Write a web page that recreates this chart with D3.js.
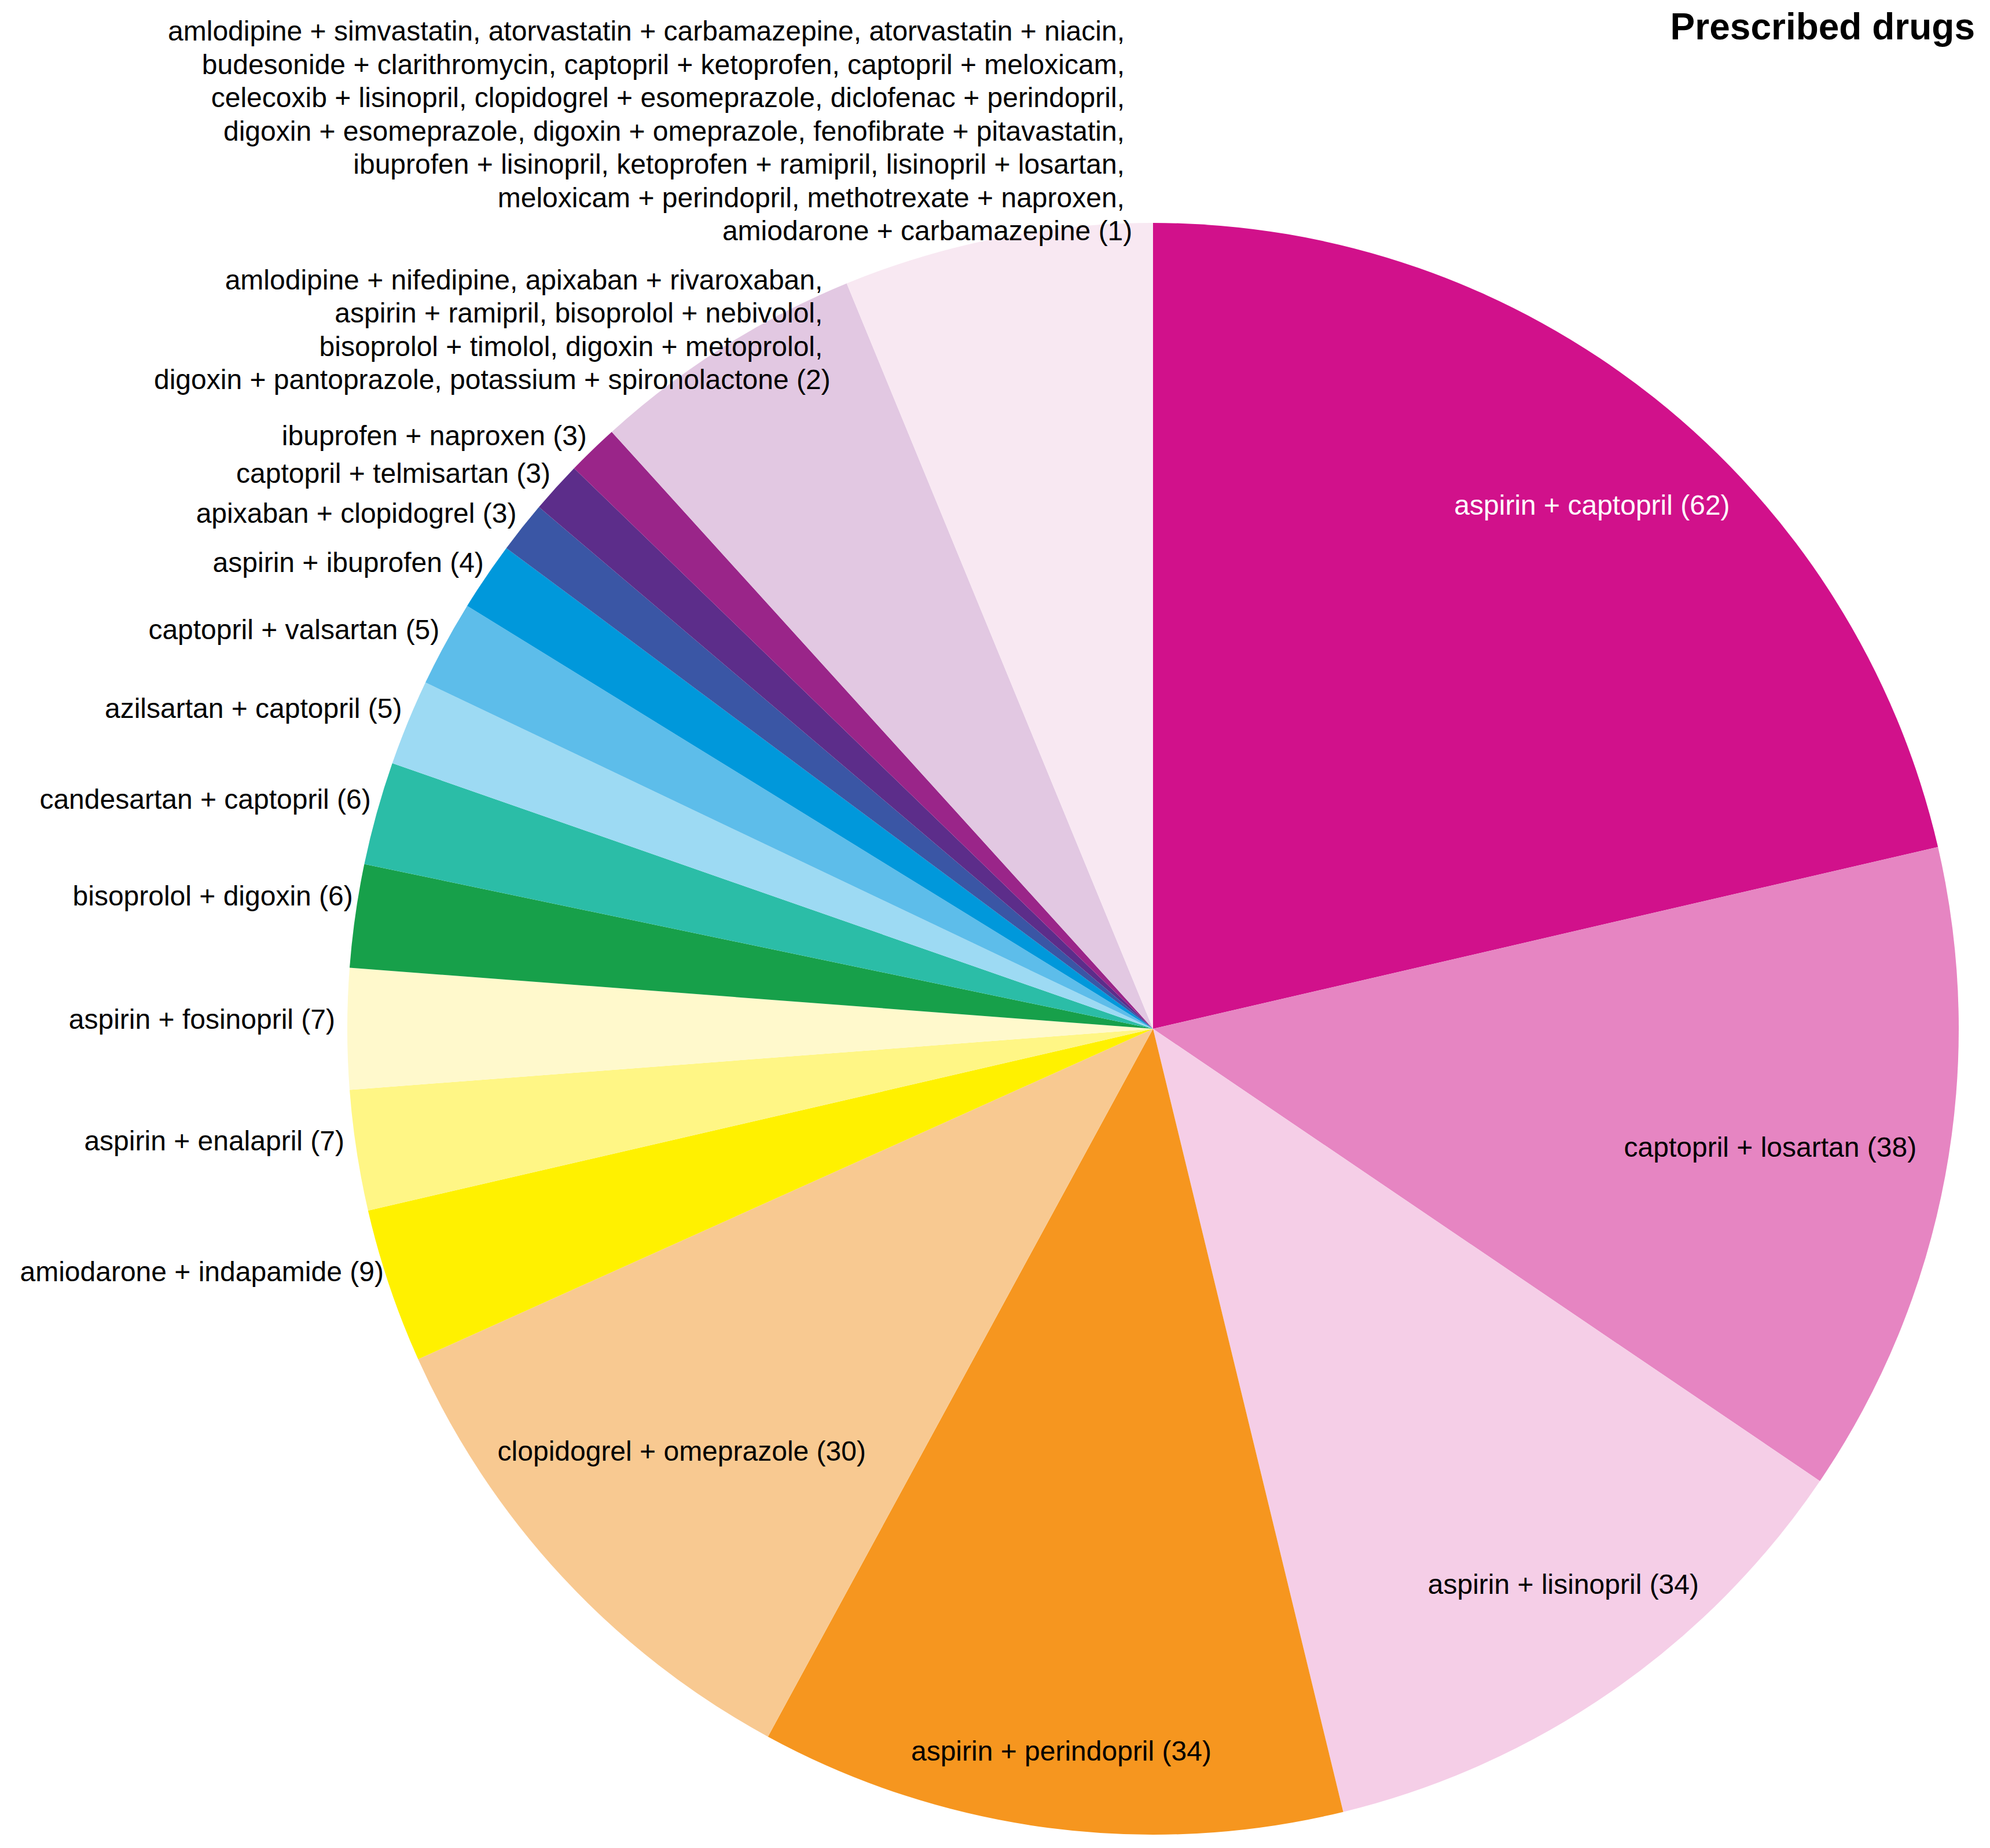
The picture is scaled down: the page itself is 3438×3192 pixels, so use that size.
<!DOCTYPE html>
<html>
<head>
<meta charset="utf-8">
<script src="https://cdn.jsdelivr.net/npm/d3@7"></script>
<style>
  body { margin: 0; background: #fff; }
  text { font-family: "Liberation Sans", Arial, sans-serif; }
</style>
</head>
<body>
<div id="chart"></div>
<script>
// drug pairs per slice (the last two slices group several pairs with the same count)
var pairs = [
  ["aspirin + captopril"],
  ["captopril + losartan"],
  ["aspirin + lisinopril"],
  ["aspirin + perindopril"],
  ["clopidogrel + omeprazole"],
  ["amiodarone + indapamide"],
  ["aspirin + enalapril"],
  ["aspirin + fosinopril"],
  ["bisoprolol + digoxin"],
  ["candesartan + captopril"],
  ["azilsartan + captopril"],
  ["captopril + valsartan"],
  ["aspirin + ibuprofen"],
  ["apixaban + clopidogrel"],
  ["captopril + telmisartan"],
  ["ibuprofen + naproxen"],
  ["amlodipine + nifedipine", "apixaban + rivaroxaban", "aspirin + ramipril", "bisoprolol + nebivolol",
   "bisoprolol + timolol", "digoxin + metoprolol", "digoxin + pantoprazole", "potassium + spironolactone"],
  ["amlodipine + simvastatin", "atorvastatin + carbamazepine", "atorvastatin + niacin",
   "budesonide + clarithromycin", "captopril + ketoprofen", "captopril + meloxicam",
   "celecoxib + lisinopril", "clopidogrel + esomeprazole", "diclofenac + perindopril",
   "digoxin + esomeprazole", "digoxin + omeprazole", "fenofibrate + pitavastatin",
   "ibuprofen + lisinopril", "ketoprofen + ramipril", "lisinopril + losartan",
   "meloxicam + perindopril", "methotrexate + naproxen", "amiodarone + carbamazepine"]
];

// prescriptions per pair
var counts = [62, 38, 34, 34, 30, 9, 7, 7, 6, 6, 5, 5, 4, 3, 3, 3, 2, 1];

var colors = ["#D1118B", "#E685C2", "#F5CEE7", "#F6961F", "#F8C991", "#FFF100", "#FFF685", "#FFF9CC",
              "#17A04A", "#2BBDA7", "#9DDAF3", "#5DBDEA", "#0098DB", "#3A56A5", "#5C2D8A", "#9A2589",
              "#E2C8E2", "#F8E8F2"];

var title = "Prescribed drugs";

// ---- layout ----
var W = 3438, H = 3192;
var cx = 1992, cy = 1777, R = 1392;
var fontSize = 48, lineH = 57.5;

// labels drawn inside the big slices: radius fraction, angle nudge (deg), fill
var inside = {
  0: {r: 0.848, da: 1.5, fill: "#fff"},
  1: {r: 0.78, da: 0.3},
  2: {r: 0.857, da: -1.7},
  3: {r: 0.903, da: -0.2},
  4: {r: 0.785, da: 1.0}
};
// pairs per line for the grouped labels, plus their offset from the slice edge point
var groupWrap = {16: {wrap: [2, 2, 2, 2], dx: 186, dy: 72}, 17: {wrap: [3, 3, 3, 3, 3, 2, 1], dx: 234, dy: 4}};
// small nudges for a few outside labels
var nudge = {6: [-11, 8], 7: [-11, 8], 8: [6, -10], 12: [6, 0]};

var data = pairs.map(function(p, i) {
  return {pairs: p, count: counts[i], value: counts[i] * p.length, color: colors[i], i: i};
});

var svg = d3.select("#chart").append("svg")
  .attr("width", W).attr("height", H)
  .style("background", "#fff");

var g = svg.append("g").attr("transform", "translate(" + cx + "," + cy + ")");

var pie = d3.pie().sort(null).value(function(d) { return d.value; });
var arc = d3.arc().innerRadius(0).outerRadius(R);
var arcs = pie(data);

g.selectAll("path.slice")
  .data(arcs)
  .enter().append("path")
  .attr("class", "slice")
  .attr("d", arc)
  .attr("fill", function(d) { return d.data.color; });

function pointAt(a, r) { return [r * Math.sin(a), -r * Math.cos(a)]; }

arcs.forEach(function(d) {
  var i = d.data.i;
  var mid = (d.startAngle + d.endAngle) / 2;
  if (inside[i]) {
    var p = pointAt(mid + inside[i].da * Math.PI / 180, R * inside[i].r);
    g.append("text")
      .attr("x", p[0]).attr("y", p[1])
      .attr("dy", "0.35em")
      .attr("text-anchor", "middle")
      .attr("font-size", fontSize)
      .attr("fill", inside[i].fill || "#000")
      .text(d.data.pairs[0] + " (" + d.data.count + ")");
  } else if (groupWrap[i]) {
    var gw = groupWrap[i];
    var p2 = pointAt(mid, R);
    var lines = [], k = 0;
    gw.wrap.forEach(function(n, li) {
      var s = d.data.pairs.slice(k, k + n).join(", ");
      k += n;
      s += (li === gw.wrap.length - 1) ? " (" + d.data.count + ")" : ", ";
      lines.push(s);
    });
    var t = g.append("text")
      .attr("text-anchor", "end")
      .attr("font-size", fontSize)
      .attr("fill", "#000")
      .style("white-space", "pre");
    lines.forEach(function(s, li) {
      t.append("tspan")
        .attr("x", p2[0] + gw.dx)
        .attr("y", p2[1] + gw.dy - (lines.length - 1 - li) * lineH)
        .text(s);
    });
  } else {
    var p3 = pointAt(mid, R);
    var n = nudge[i] || [0, 0];
    g.append("text")
      .attr("x", p3[0] - 10 + n[0]).attr("y", p3[1] - 8 + n[1])
      .attr("text-anchor", "end")
      .attr("font-size", fontSize)
      .attr("fill", "#000")
      .text(d.data.pairs[0] + " (" + d.data.count + ")");
  }
});

svg.append("text")
  .attr("x", 3412).attr("y", 68)
  .attr("text-anchor", "end")
  .attr("font-size", 64)
  .attr("font-weight", "bold")
  .text(title);
</script>
</body>
</html>
